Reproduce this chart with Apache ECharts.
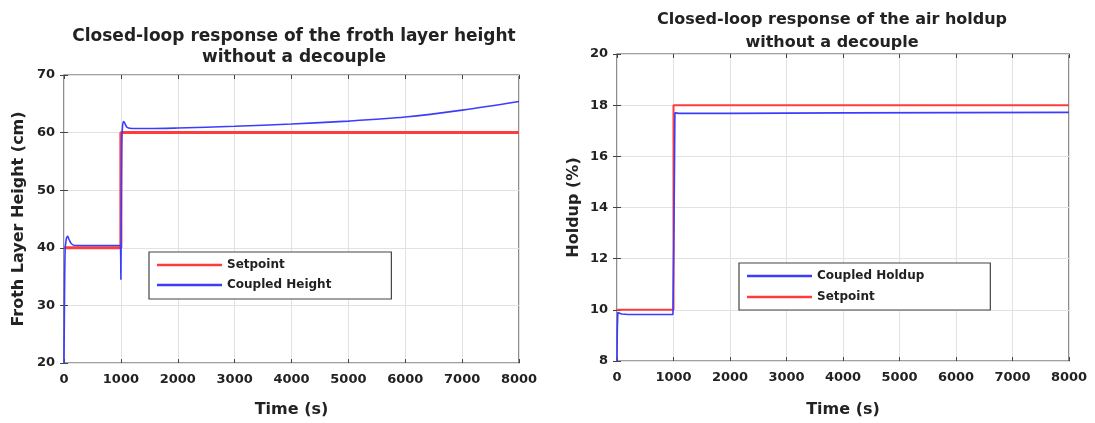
<!DOCTYPE html>
<html>
<head>
<meta charset="utf-8">
<script src="https://cdn.jsdelivr.net/npm/echarts@6/dist/echarts.min.js"></script>
<style>
html,body{margin:0;padding:0;background:#fff;}
#chart{width:1095px;height:423px;}
</style>
</head>
<body>
<div id="chart"></div>
<script>
// ---- Data ----
const xTicks = [0, 1000, 2000, 3000, 4000, 5000, 6000, 7000, 8000];

// Left: froth layer height
const heightSetpointTime = [0, 1000, 1000, 8000];
const heightSetpointValue = [40, 40, 60, 60];
const heightCoupledTime = [0, 8, 20, 40, 65, 90, 130, 200, 400, 990, 1000, 1006, 1015, 1030, 1050, 1075, 1110, 1200, 1500, 2000, 3000, 4000, 5000, 6000, 7000, 8000];
const heightCoupledValue = [20, 30, 39.5, 41.5, 42.0, 41.4, 40.7, 40.4, 40.4, 40.4, 34.5, 45, 58, 61.2, 61.9, 61.5, 60.9, 60.7, 60.7, 60.8, 61.1, 61.5, 62.0, 62.7, 63.9, 65.4];

// Right: air holdup
const holdupSetpointTime = [0, 1000, 1000, 8000];
const holdupSetpointValue = [10, 10, 18, 18];
const holdupCoupledTime = [0, 5, 15, 30, 80, 200, 990, 1000, 1008, 1025, 1100, 2000, 4000, 6000, 8000];
const holdupCoupledValue = [8, 9.2, 9.9, 9.9, 9.84, 9.82, 9.82, 9.82, 13, 17.7, 17.68, 17.68, 17.7, 17.71, 17.72];

const zip = (t, v) => t.map((x, i) => [x, v[i]]);

const FONT = '"DejaVu Sans", "Liberation Sans", Arial, sans-serif';
const TXT = '#222';

function xAxisBase(grid, top) {
  return {
    type: 'value', gridIndex: grid, min: xTicks[0], max: xTicks[xTicks.length - 1], interval: xTicks[1] - xTicks[0],
    position: top ? 'top' : 'bottom',
    axisLine: { show: false },
    axisTick: { show: true, inside: true, length: 4, lineStyle: { color: '#444' } },
    axisLabel: top ? { show: false } : { show: true, color: TXT, fontWeight: 'bold', fontSize: 13, fontFamily: FONT, margin: 10, formatter: v => String(v) },
    splitLine: top ? { show: false } : { show: true, lineStyle: { color: '#e2e2e2', width: 1 } },
    name: top ? '' : 'Time (s)',
    nameLocation: 'middle',
    nameGap: grid === 0 ? 39 : 41,
    nameTextStyle: { color: TXT, fontWeight: 'bold', fontSize: 16, fontFamily: FONT }
  };
}

function yAxisBase(grid, min, max, interval, name, right) {
  return {
    type: 'value', gridIndex: grid, min: min, max: max, interval: interval,
    position: right ? 'right' : 'left',
    axisLine: { show: false },
    axisTick: { show: true, inside: true, length: 4, lineStyle: { color: '#444' } },
    axisLabel: right ? { show: false } : { show: true, color: TXT, fontWeight: 'bold', fontSize: 13, fontFamily: FONT, margin: 9, formatter: v => String(v) },
    splitLine: right ? { show: false } : { show: true, lineStyle: { color: '#e2e2e2', width: 1 } },
    name: right ? '' : name,
    nameLocation: 'middle',
    nameGap: grid === 0 ? 37 : 35,
    nameTextStyle: { color: TXT, fontWeight: 'bold', fontSize: 16, fontFamily: FONT }
  };
}

const chart = echarts.init(document.getElementById('chart'), null, { renderer: 'canvas' });

const legendText = { color: TXT, fontWeight: 'bold', fontSize: 12, fontFamily: FONT };

chart.setOption({
  backgroundColor: '#fff',
  animation: false,
  title: [
    { text: 'Closed-loop response of the froth layer height\nwithout a decouple', left: 289, top: 21, textAlign: 'center',
      textStyle: { color: TXT, fontWeight: 'bold', fontSize: 17, fontFamily: FONT, lineHeight: 21 } },
    { text: 'Closed-loop response of the air holdup\nwithout a decouple', left: 827, top: 3, textAlign: 'center',
      textStyle: { color: TXT, fontWeight: 'bold', fontSize: 16, fontFamily: FONT, lineHeight: 23 } }
  ],
  grid: [
    { left: 64, right: 576, top: 75, bottom: 58, show: true, borderColor: '#444', borderWidth: 1.2, backgroundColor: '#fff' },
    { left: 617, right: 26, top: 54, bottom: 56, show: true, borderColor: '#444', borderWidth: 1.2, backgroundColor: '#fff' }
  ],
  xAxis: [xAxisBase(0, false), xAxisBase(1, false), xAxisBase(0, true), xAxisBase(1, true)],
  yAxis: [
    yAxisBase(0, 20, 70, 10, 'Froth Layer Height (cm)', false),
    yAxisBase(1, 8, 20, 2, 'Holdup (%)', false),
    yAxisBase(0, 20, 70, 10, '', true),
    yAxisBase(1, 8, 20, 2, '', true)
  ],
  legend: [
    { data: ['Setpoint', 'Coupled Height'], orient: 'vertical', left: 149, top: 252,
      icon: 'rect', itemWidth: 65, itemHeight: 2.5, itemGap: 8,
      padding: [7, 60, 8, 8], borderColor: '#444', borderWidth: 1.2, backgroundColor: '#fff',
      textStyle: legendText, selectedMode: false },
    { data: ['Coupled Holdup', 'Setpoint'], orient: 'vertical', left: 739, top: 263,
      icon: 'rect', itemWidth: 65, itemHeight: 2.5, itemGap: 9,
      padding: [7, 66, 7, 8], borderColor: '#444', borderWidth: 1.2, backgroundColor: '#fff',
      textStyle: legendText, selectedMode: false }
  ],
  series: [
    { name: 'Setpoint', type: 'line', xAxisIndex: 0, yAxisIndex: 0, data: zip(heightSetpointTime, heightSetpointValue),
      symbol: 'none', lineStyle: { color: '#ff3c3c', width: 3 }, itemStyle: { color: '#ff3c3c' }, z: 2 },
    { name: 'Coupled Height', type: 'line', xAxisIndex: 0, yAxisIndex: 0, data: zip(heightCoupledTime, heightCoupledValue),
      symbol: 'none', smooth: 0.3, lineStyle: { color: '#3c3cff', width: 1.6 }, itemStyle: { color: '#3c3cff' }, z: 3 },
    { name: 'Coupled Holdup', type: 'line', xAxisIndex: 1, yAxisIndex: 1, data: zip(holdupCoupledTime, holdupCoupledValue),
      symbol: 'none', lineStyle: { color: '#3c3cff', width: 1.6 }, itemStyle: { color: '#3c3cff' }, z: 3 },
    { name: 'Setpoint', type: 'line', xAxisIndex: 1, yAxisIndex: 1, data: zip(holdupSetpointTime, holdupSetpointValue),
      symbol: 'none', lineStyle: { color: '#ff3c3c', width: 2 }, itemStyle: { color: '#ff3c3c' }, z: 2 }
  ]
});
</script>
</body>
</html>
